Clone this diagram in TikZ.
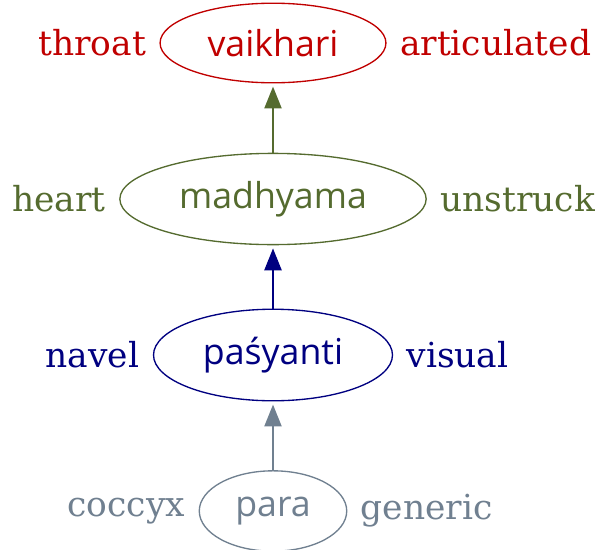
\documentclass[tikz,border=0pt]{standalone}
\usepackage{fontspec}
\setmainfont{DejaVu Serif}
\setsansfont{Open Sans}
\usetikzlibrary{shapes.geometric,positioning,arrows.meta}

\definecolor{vaired}{HTML}{C00000}
\definecolor{madgreen}{HTML}{556B2F}
\definecolor{pasnavy}{HTML}{000080}
\definecolor{paragrey}{HTML}{708090}

\tikzset{
    level/.style={draw, ellipse, line width=0.95pt, inner sep=0.36cm,
        font=\sffamily\fontsize{25.4}{30}\selectfont},
    lbl/.style={inner sep=0.33cm, font=\fontsize{24.5}{29}\selectfont},
    conn/.style={-{Triangle[length=0.55cm, width=0.42cm]}, line width=2.1pt, shorten >=0.075cm}
}

\begin{document}
\begin{tikzpicture}
    \useasboundingbox (0,0) rectangle (14.875,13.725);

    % the four levels, bottom to top
    \node[level, paragrey] (para) at (6.825,0.95) {para};
    \node[level, pasnavy, on grid, above=3.9cm of para] (pas) {paśyanti};
    \node[level, madgreen, on grid, above=3.9cm of pas] (mad) {madhyama};
    \node[level, vaired, on grid, above=3.9cm of mad] (vai) {vaikhari};

    % side labels
    \node[lbl, paragrey, left=0cm of para] (coccyx) {coccyx};
    \node[lbl, paragrey, right=0cm of para] (generic) {generic};
    \node[lbl, pasnavy, left=0cm of pas] (navel) {navel};
    \node[lbl, pasnavy, right=0cm of pas] (visual) {visual};
    \node[lbl, madgreen, left=0cm of mad] (heart) {heart};
    \node[lbl, madgreen, right=0cm of mad] (unstruck) {unstruck};
    \node[lbl, vaired, left=0cm of vai] (throat) {throat};
    \node[lbl, vaired, right=0cm of vai] (articulated) {articulated};

    \draw[conn, paragrey] (para) -- (pas);
    \draw[conn, pasnavy] (pas) -- (mad);
    \draw[conn, madgreen] (mad) -- (vai);
\end{tikzpicture}
\end{document}
